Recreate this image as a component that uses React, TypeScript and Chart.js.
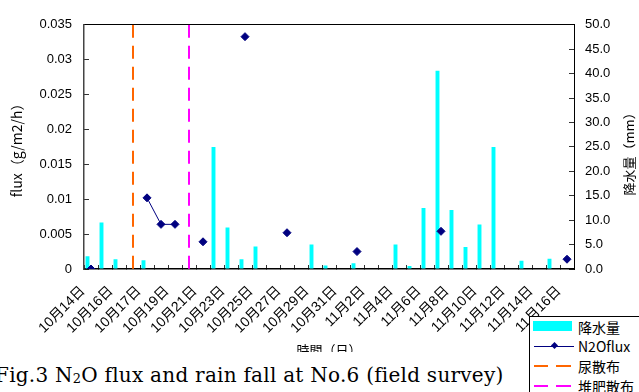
import React, { useEffect, useRef } from 'react';
import { Chart, registerables } from 'chart.js';

Chart.register(...registerables);

// ---------- data ----------
const dates: string[] = [
  '10月14日', '10月15日', '10月16日', '10月17日', '10月17日', '10月18日', '10月19日',
  '10月20日', '10月21日', '10月22日', '10月23日', '10月24日', '10月25日', '10月26日',
  '10月27日', '10月28日', '10月29日', '10月30日', '10月31日', '11月1日', '11月2日',
  '11月3日', '11月4日', '11月5日', '11月6日', '11月7日', '11月8日', '11月9日',
  '11月10日', '11月11日', '11月12日', '11月13日', '11月14日', '11月15日', '11月16日',
];

// rainfall (mm), right axis
const rainfall: number[] = [
  2.6, 9.5, 2.0, 0, 1.8, 0, 0, 0, 0, 25.0, 8.5, 2.0, 4.6, 0, 0, 0, 5.0, 0.7,
  0, 1.2, 0, 0, 5.0, 0.6, 12.5, 40.6, 12.1, 4.5, 9.1, 25.0, 0, 1.7, 0, 2.1, 0,
];

// N2O flux (g/m2/h), left axis
const n2oFlux: (number | null)[] = [
  0, null, null, null, 0.0102, 0.0064, 0.0064, null, 0.0039, null, null, 0.0333,
  null, null, 0.0052, null, null, null, null, 0.0025, null, null, null, null,
  null, 0.0054, null, null, null, null, null, null, null, null, 0.0014,
];

// application events (category index)
const urineIndex = 3;
const compostIndex = 7;

const fluxTicks: string[] = ['0', '0.005', '0.01', '0.015', '0.02', '0.025', '0.03', '0.035'];
const rainTicks: string[] = ['0.0', '5.0', '10.0', '15.0', '20.0', '25.0', '30.0', '35.0', '40.0', '45.0', '50.0'];

const fluxMax = 0.035;
const rainMax = 50;

const legendLabels = ['降水量', 'N2Oflux', '尿散布', '堆肥散布'];
const fluxAxisTitle = 'flux（g/m2/h）';
const rainAxisTitle = '降水量（mm）';
const xAxisTitle = '時間（日）';

const CJK = '"Noto Sans CJK JP", "Noto Sans", sans-serif';
const NUM = '"Liberation Sans", "Noto Sans CJK JP", sans-serif';

const rightTitlePlugin = {
  id: 'rightTitle',
  afterDraw(chart: any) {
    const ctx = chart.ctx;
    const area = chart.chartArea;
    const s = chart.scales.y1;
    ctx.save();
    ctx.translate(s.right - 10, (area.top + area.bottom) / 2 + 4);
    ctx.rotate(-Math.PI / 2);
    ctx.font = '13px ' + CJK;
    ctx.fillStyle = '#000';
    ctx.textAlign = 'center';
    ctx.textBaseline = 'middle';
    ctx.fillText(rainAxisTitle, 0, 0);
    ctx.restore();
  },
};

export default function App() {
  const ref = useRef<HTMLCanvasElement>(null);

  useEffect(() => {
    const chart = new Chart(ref.current as HTMLCanvasElement, {
      type: 'bar',
      data: {
        labels: dates,
        datasets: [
          {
            type: 'line',
            label: legendLabels[1],
            data: n2oFlux,
            xAxisID: 'x',
            yAxisID: 'y',
            borderColor: '#000080',
            backgroundColor: '#000080',
            borderWidth: 1,
            pointStyle: 'rectRot',
            pointRadius: 4,
            pointBorderWidth: 1,
            pointBackgroundColor: '#000080',
            pointBorderColor: '#000080',
            spanGaps: false,
            tension: 0,
          } as any,
          {
            type: 'line',
            label: legendLabels[2],
            data: [{ x: urineIndex, y: fluxMax }, { x: urineIndex, y: 0 }],
            xAxisID: 'xv',
            yAxisID: 'y',
            borderColor: '#FF6600',
            borderWidth: 2,
            borderDash: [13, 8],
            pointRadius: 0,
          } as any,
          {
            type: 'line',
            label: legendLabels[3],
            data: [{ x: compostIndex, y: fluxMax }, { x: compostIndex, y: 0 }],
            xAxisID: 'xv',
            yAxisID: 'y',
            borderColor: '#FF00FF',
            borderWidth: 2,
            borderDash: [13, 8],
            pointRadius: 0,
          } as any,
          {
            type: 'bar',
            label: legendLabels[0],
            data: rainfall,
            xAxisID: 'x',
            yAxisID: 'y1',
            backgroundColor: '#00FFFF',
            borderWidth: 0,
            barPercentage: 0.56,
            categoryPercentage: 1,
          } as any,
        ],
      },
      options: {
        animation: false,
        responsive: false,
        layout: { padding: { top: 18, left: 0, right: 0, bottom: 0 } },
        plugins: {
          legend: { display: false },
          tooltip: { enabled: false },
        },
        scales: {
          x: {
            type: 'category',
            position: 'bottom',
            offset: true,
            grid: { drawOnChartArea: false, offset: true, tickLength: -4, color: '#333', tickWidth: 1 },
            border: { color: '#000', width: 1.5 },
            ticks: {
              autoSkip: false,
              minRotation: 45,
              maxRotation: 45,
              padding: 18,
              labelOffset: -8,
              color: '#000',
              font: { size: 14, family: NUM },
              callback: (_v: any, i: number) => (i % 2 === 0 ? dates[i] : ''),
            },
            title: {
              display: true,
              text: xAxisTitle,
              color: '#000',
              font: { size: 13, family: CJK },
              padding: { top: 0, bottom: 34 },
            },
            afterFit: (s: any) => { s.height = 123; },
          },
          xv: {
            type: 'linear',
            position: 'top',
            min: -0.5,
            max: dates.length - 0.5,
            offset: false,
            grid: { drawOnChartArea: false, drawTicks: false, offset: false },
            border: { color: '#000', width: 1 },
            ticks: { display: false },
          },
          y: {
            type: 'linear',
            position: 'left',
            min: 0,
            max: fluxMax,
            grid: { drawOnChartArea: false, tickLength: -5, color: '#333' },
            border: { color: '#444', width: 1.5 },
            ticks: {
              stepSize: 0.005,
              padding: 17,
              color: '#000',
              font: { size: 13, family: NUM },
              callback: (_v: any, i: number) => fluxTicks[i],
            },
            title: {
              display: true,
              text: fluxAxisTitle,
              color: '#000',
              font: { size: 14, family: CJK },
              padding: { top: 8, bottom: 0 },
            },
            afterFit: (s: any) => { s.width = 84; },
          },
          y1: {
            type: 'linear',
            position: 'right',
            min: 0,
            max: rainMax,
            grid: { drawOnChartArea: false, tickLength: -5, color: '#333' },
            border: { color: '#000', width: 1 },
            ticks: {
              stepSize: 5,
              padding: 16,
              color: '#000',
              font: { size: 13, family: NUM },
              callback: (_v: any, i: number) => rainTicks[i],
            },
            afterFit: (s: any) => { s.width = 65; },
          },
        },
      } as any,
      plugins: [rightTitlePlugin],
    });
    return () => chart.destroy();
  }, []);

  const dash = (color: string, top: number) => (
    <>
      <div style={{ position: 'absolute', left: 4, top, width: 14, height: 2, background: color }} />
      <div style={{ position: 'absolute', left: 26, top, width: 15, height: 2, background: color }} />
    </>
  );

  return (
    <div style={{ position: 'fixed', left: 0, top: 0, width: 639, height: 392, background: '#fff', overflow: 'hidden' }}>
      <canvas ref={ref} width={639} height={392} style={{ position: 'absolute', left: 0, top: 0 }} />
      <div
        style={{
          position: 'absolute', left: 0, top: 352, width: 529, height: 40, background: '#fff',
        }}
      >
        <div
          style={{
            position: 'absolute', left: -5, top: 10, whiteSpace: 'nowrap', letterSpacing: '0.25px',
            fontFamily: '"DejaVu Serif", serif', fontSize: 20, lineHeight: '26px', color: '#000',
          }}
        >
          Fig.3 N<span style={{ fontSize: 13, verticalAlign: '-1px' }}>2</span>O flux and rain fall at No.6 (field survey)
        </div>
      </div>
      <div
        style={{
          position: 'absolute', left: 529, top: 316, width: 130, height: 100,
          border: '1px solid #000', background: '#fff', fontFamily: CJK, fontSize: 14, color: '#000',
        }}
      >
        <div style={{ position: 'absolute', left: 3, top: 4, width: 39, height: 10, background: '#00FFFF' }} />
        <div style={{ position: 'absolute', left: 48, top: 0, lineHeight: '20px' }}>{legendLabels[0]}</div>
        <div style={{ position: 'absolute', left: 4, top: 29, width: 40, height: 1, background: '#000080' }} />
        <div style={{ position: 'absolute', left: 22, top: 26, width: 5, height: 5, background: '#000080', transform: 'rotate(45deg)' }} />
        <div style={{ position: 'absolute', left: 48, top: 19, lineHeight: '20px' }}>{legendLabels[1]}</div>
        {dash('#FF6600', 48)}
        <div style={{ position: 'absolute', left: 48, top: 39, lineHeight: '20px' }}>{legendLabels[2]}</div>
        {dash('#FF00FF', 68)}
        <div style={{ position: 'absolute', left: 48, top: 59, lineHeight: '20px' }}>{legendLabels[3]}</div>
      </div>
    </div>
  );
}
